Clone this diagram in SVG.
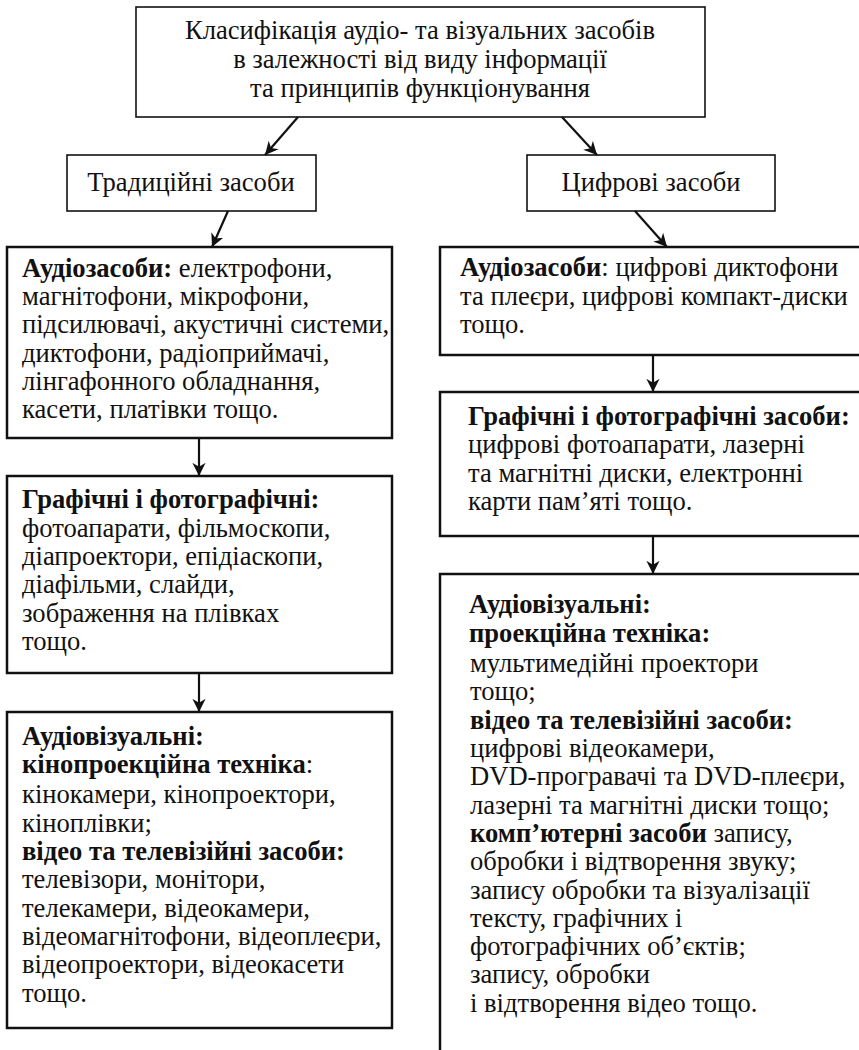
<svg xmlns="http://www.w3.org/2000/svg" width="859" height="1050" viewBox="0 0 859 1050">
<style>
text{font-family:"Liberation Serif","Times New Roman",serif;font-size:26.6px;fill:#111}
.b{font-weight:bold}
.c{text-anchor:middle}
.thin{fill:#fff;stroke:#111;stroke-width:1.6}
.thick{fill:#fff;stroke:#111;stroke-width:2.5}
.conn line{stroke:#111;stroke-width:2.2}
</style>
<defs>
<marker id="ah" viewBox="0 0 10 10" refX="10" refY="5" markerWidth="6" markerHeight="6" orient="auto" markerUnits="strokeWidth">
<path d="M0,0 L10,5 L0,10 L3,5 z" fill="#111"/>
</marker>
</defs>
<rect width="859" height="1050" fill="#fff"/>
<g id="root">
<rect class="thin" x="136" y="7" width="569" height="110"/>
<text class="c" x="420" y="39">Класифікація аудіо- та візуальних засобів</text>
<text class="c" x="420" y="68">в залежності від виду інформації</text>
<text class="c" x="420" y="97">та принципів функціонування</text>
</g>
<g id="traditional">
<rect class="thin" x="67" y="155" width="249" height="56"/>
<text class="c" x="191" y="191">Традиційні засоби</text>
</g>
<g id="digital">
<rect class="thin" x="527" y="155" width="248" height="56"/>
<text class="c" x="651" y="191">Цифрові засоби</text>
</g>
<g id="trad-audio">
<rect class="thick" x="7" y="247" width="385" height="191"/>
<text x="22" y="277"><tspan class="b">Аудіозасоби:</tspan> електрофони,</text>
<text x="22" y="305">магнітофони, мікрофони,</text>
<text x="22" y="333">підсилювачі, акустичні системи,</text>
<text x="22" y="362">диктофони, радіоприймачі,</text>
<text x="22" y="390">лінгафонного обладнання,</text>
<text x="22" y="418">касети, платівки тощо.</text>
</g>
<g id="trad-graphic">
<rect class="thick" x="7" y="476" width="385" height="197"/>
<text class="b" x="22" y="508">Графічні і фотографічні:</text>
<text x="22" y="537">фотоапарати, фільмоскопи,</text>
<text x="22" y="565">діапроектори, епідіаскопи,</text>
<text x="22" y="593">діафільми, слайди,</text>
<text x="22" y="622">зображення на плівках</text>
<text x="22" y="650">тощо.</text>
</g>
<g id="trad-av">
<rect class="thick" x="7" y="712" width="385" height="316"/>
<text class="b" x="22" y="745">Аудіовізуальні:</text>
<text x="22" y="773"><tspan class="b">кінопроекційна техніка</tspan>:</text>
<text x="22" y="803">кінокамери, кінопроектори,</text>
<text x="22" y="832">кіноплівки;</text>
<text class="b" x="22" y="860">відео та телевізійні засоби:</text>
<text x="22" y="888">телевізори, монітори,</text>
<text x="22" y="917">телекамери, відеокамери,</text>
<text x="22" y="945">відеомагнітофони, відеоплеєри,</text>
<text x="22" y="973">відеопроектори, відеокасети</text>
<text x="22" y="1002">тощо.</text>
</g>
<g id="dig-audio">
<rect class="thick" x="440" y="247" width="430" height="108"/>
<text x="460" y="276"><tspan class="b">Аудіозасоби</tspan>: цифрові диктофони</text>
<text x="460" y="305">та плеєри, цифрові компакт-диски</text>
<text x="460" y="333">тощо.</text>
</g>
<g id="dig-graphic">
<rect class="thick" x="440" y="392" width="430" height="144"/>
<text class="b" x="468" y="425">Графічні і фотографічні засоби:</text>
<text x="468" y="453">цифрові фотоапарати, лазерні</text>
<text x="468" y="482">та магнітні диски, електронні</text>
<text x="468" y="510">карти пам’яті тощо.</text>
</g>
<g id="dig-av">
<rect class="thick" x="440" y="574" width="430" height="500"/>
<text class="b" x="469" y="613">Аудіовізуальні:</text>
<text class="b" x="469" y="642">проекційна техніка:</text>
<text x="470" y="672">мультимедійні проектори</text>
<text x="470" y="700">тощо;</text>
<text class="b" x="470" y="729">відео та телевізійні засоби:</text>
<text x="470" y="757">цифрові відеокамери,</text>
<text x="470" y="785">DVD-програвачі та DVD-плеєри,</text>
<text x="470" y="814">лазерні та магнітні диски тощо;</text>
<text x="470" y="842"><tspan class="b">комп’ютерні засоби</tspan> запису,</text>
<text x="470" y="870">обробки і відтворення звуку;</text>
<text x="470" y="899">запису обробки та візуалізації</text>
<text x="470" y="927">тексту, графічних і</text>
<text x="470" y="955">фотографічних об’єктів;</text>
<text x="470" y="983">запису, обробки</text>
<text x="470" y="1012">і відтворення відео тощо.</text>
</g>
<g id="connectors" class="conn">
<line x1="298" y1="117" x2="265" y2="155" marker-end="url(#ah)"/>
<line x1="562" y1="117" x2="597" y2="155" marker-end="url(#ah)"/>
<line x1="228" y1="211" x2="212" y2="247" marker-end="url(#ah)"/>
<line x1="635" y1="211" x2="667" y2="247" marker-end="url(#ah)"/>
<line x1="199" y1="438" x2="199" y2="476" marker-end="url(#ah)"/>
<line x1="653" y1="355" x2="653" y2="392" marker-end="url(#ah)"/>
<line x1="199" y1="673" x2="199" y2="712" marker-end="url(#ah)"/>
<line x1="653" y1="536" x2="653" y2="574" marker-end="url(#ah)"/>
</g>
</svg>
